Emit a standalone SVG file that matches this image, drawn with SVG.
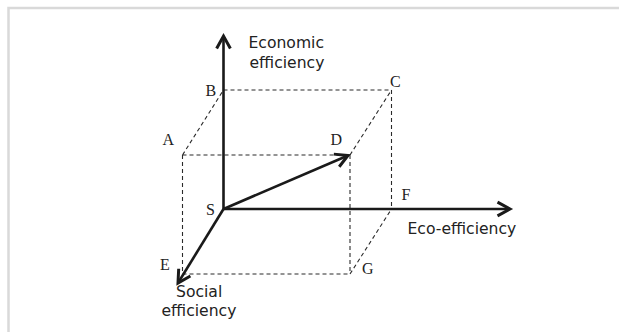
<svg xmlns="http://www.w3.org/2000/svg" width="619" height="332" viewBox="0 0 619 332">
  <defs>
    <marker id="arr" markerUnits="userSpaceOnUse" markerWidth="20" markerHeight="20" refX="0" refY="0" viewBox="-12 -8 14 16" orient="auto" overflow="visible">
      <path d="M-10,-5.5 L0,0 L-10,5.5" fill="none" stroke="#1a1a1a" stroke-width="2.4" stroke-linejoin="miter"/>
    </marker>
    <style>
      .dash { stroke: #2a2a2a; stroke-width: 1.1; stroke-dasharray: 4 3; fill: none; }
      .axis { stroke: #1a1a1a; stroke-width: 2.6; fill: none; marker-end: url(#arr); }
      .lbl { font-family: "Liberation Serif", "Times New Roman", serif; font-size: 16px; fill: #222; }
      .ax { font-family: "DejaVu Sans", Verdana, sans-serif; font-size: 15.6px; fill: #222; }
    </style>
  </defs>
  <rect x="0" y="0" width="619" height="332" fill="#ffffff"/>
  <rect x="8.5" y="8" width="700" height="400" fill="none" stroke="#d9d9d9" stroke-width="2.5"/>

  <g id="box">
    <path class="dash" d="M182.5,155 L350,155 M182.5,155 L182.5,274 L350,274 M350,155 L350,274 M223.5,90 L391.5,90 L391.5,209 M182.5,155 L223.5,90 M350,155 L391.5,90 M350,274 L391.5,209"/>
  </g>

  <g id="connectors">
    <path class="axis" d="M223.5,209 L223.5,36"/>
    <path class="axis" d="M223.5,209 L510,209"/>
    <path class="axis" d="M223.5,209 L178,283"/>
    <path class="axis" d="M223.5,209 L348,155.5"/>
  </g>

  <g id="node-A"><text class="lbl" x="162.5" y="145">A</text></g>
  <g id="node-B"><text class="lbl" x="205.5" y="96">B</text></g>
  <g id="node-C"><text class="lbl" x="390" y="87">C</text></g>
  <g id="node-D"><text class="lbl" x="330.5" y="145">D</text></g>
  <g id="node-E"><text class="lbl" x="160" y="270">E</text></g>
  <g id="node-F"><text class="lbl" x="401.5" y="200">F</text></g>
  <g id="node-G"><text class="lbl" x="362" y="274">G</text></g>
  <g id="node-S"><text class="lbl" x="206" y="214.5">S</text></g>

  <g id="label-economic">
    <text class="ax" x="248.5" y="47.5">Economic</text>
    <text class="ax" x="249.5" y="67.5">efficiency</text>
  </g>
  <g id="label-eco">
    <text class="ax" x="407.5" y="234">Eco-efficiency</text>
  </g>
  <g id="label-social">
    <text class="ax" x="176" y="297">Social</text>
    <text class="ax" x="161.5" y="316">efficiency</text>
  </g>
</svg>
